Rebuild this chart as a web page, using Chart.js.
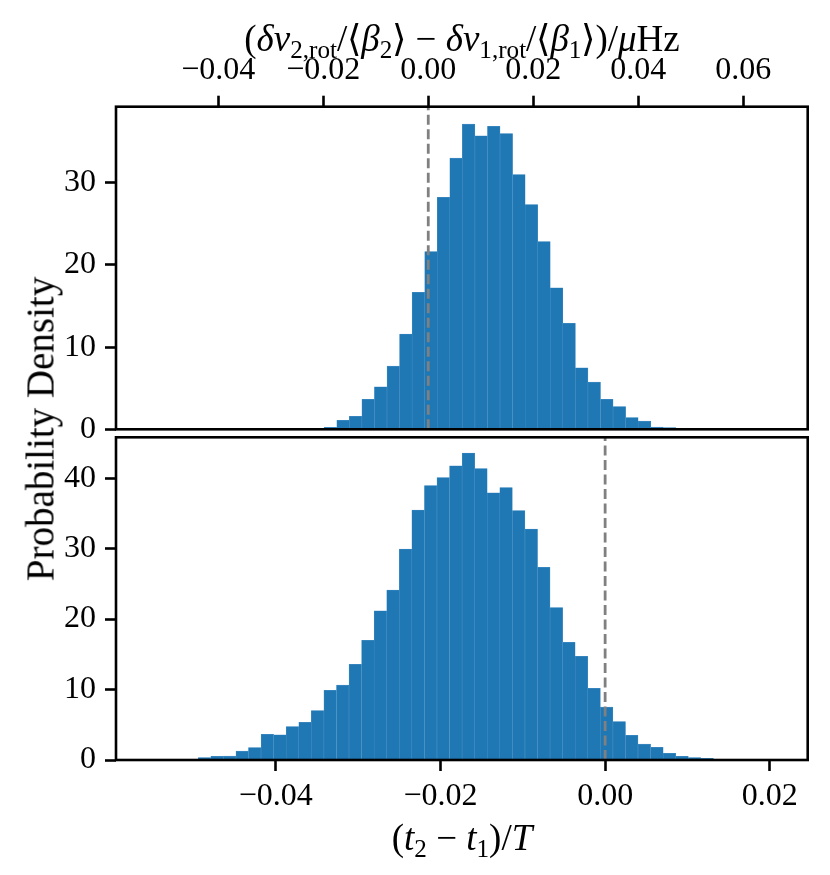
<!DOCTYPE html>
<html>
<head>
<meta charset="utf-8">
<title>Probability density of rotation offsets</title>
<script src="https://cdn.jsdelivr.net/npm/chart.js@4.4.0/dist/chart.umd.min.js"></script>
<style>
    html, body { margin: 0; padding: 0; background: #fff; }
    #wrap { position: relative; width: 830px; height: 875px; font-family: "Liberation Serif", serif; color: #000; overflow: hidden; }
    canvas { position: absolute; left: 0; }
    #top-chart { top: 0; }
    #bottom-chart { top: 420px; }
    .axis-title { position: absolute; white-space: nowrap; font-size: 37px; line-height: 1; }
    .axis-title sub { font-size: 68%; vertical-align: -0.3em; line-height: 0; }
    #title-top { left: 462px; top: 38px; transform: translate(-50%, -50%); }
    #title-bottom { left: 462px; top: 837px; transform: translate(-50%, -50%); }
    #title-y { left: 40px; top: 429px; transform: translate(-50%, -50%) rotate(-90deg); font-size: 39px; }
</style>
</head>
<body>
<div id="wrap">
    <canvas id="top-chart" width="830" height="470"></canvas>
    <canvas id="bottom-chart" width="830" height="455"></canvas>
    <div class="axis-title" id="title-top">(<i>δν</i><sub>2,rot</sub>/⟨<i>β</i><sub>2</sub>⟩ − <i>δν</i><sub>1,rot</sub>/⟨<i>β</i><sub>1</sub>⟩)/<i>μ</i>Hz</div>
    <div class="axis-title" id="title-bottom">(<i>t</i><sub>2</sub> − <i>t</i><sub>1</sub>)/<i>T</i></div>
    <div class="axis-title" id="title-y">Probability Density</div>
</div>
<script>
// Histogram data (bin centres and density)

const topBinCenters = [
    -0.02102, -0.01863, -0.01623, -0.01384, -0.01145, -0.00906, -0.00666, -0.00427,
    -0.00188, 0.00052, 0.00291, 0.00530, 0.00769, 0.01009, 0.01248, 0.01487,
    0.01727, 0.01966, 0.02205, 0.02445, 0.02684, 0.02923, 0.03162, 0.03402,
    0.03641, 0.03880, 0.04120, 0.04359, 0.04598
];
const topDensity = [
    0.08, 0.24, 1.09, 1.58, 3.65, 5.18, 7.70, 11.58,
    16.65, 21.63, 28.23, 33.01, 37.14, 35.72, 36.86, 35.97,
    30.98, 27.34, 22.84, 17.21, 12.88, 7.49, 5.75, 3.65,
    2.75, 1.42, 1.01, 0.28, 0.20
];

const bottomBinCenters = [
    -0.04865, -0.04712, -0.04560, -0.04407, -0.04255, -0.04102, -0.03949, -0.03797,
    -0.03644, -0.03492, -0.03339, -0.03186, -0.03034, -0.02881, -0.02729, -0.02576,
    -0.02423, -0.02271, -0.02118, -0.01966, -0.01813, -0.01660, -0.01508, -0.01355,
    -0.01203, -0.01050, -0.00897, -0.00745, -0.00592, -0.00440, -0.00287, -0.00134,
    0.00018, 0.00171, 0.00323, 0.00476, 0.00629, 0.00781, 0.00934, 0.01086, 0.01239
];
const bottomDensity = [
    0.33, 0.52, 0.57, 1.28, 1.75, 3.64, 3.59, 4.73,
    5.34, 7.00, 9.88, 10.64, 13.57, 16.97, 21.18, 24.11,
    29.93, 35.46, 38.96, 40.09, 41.75, 43.55, 41.37, 37.92,
    38.68, 35.41, 32.77, 27.33, 21.65, 16.69, 14.70, 10.17,
    7.52, 5.44, 3.50, 2.27, 1.80, 0.95, 0.52, 0.33, 0.24
];

// Axis ranges and tick values
const topXRange = [-0.0595, 0.0723];
const bottomXRange = [-0.0594, 0.0246];
const topXTicks = [-0.04, -0.02, 0.00, 0.02, 0.04, 0.06];
const bottomXTicks = [-0.04, -0.02, 0.00, 0.02];
const topYMax = 39.25;
const bottomYMax = 45.8;
const topYTicks = [0, 10, 20, 30];
const bottomYTicks = [0, 10, 20, 30, 40];

// Dashed reference line at zero
const refLineX = 0;

const barColor = '#1f77b4';
const tickFont = { family: 'Liberation Serif', size: 32 };

function formatTick(v) {
    return v.toFixed(2).replace('-', '\u2212');
}

// box around each panel, drawn over the bars like matplotlib spines
const framePlugin = {
    id: 'frame',
    afterDatasetsDraw(chart) {
        const ctx = chart.ctx;
        const a = chart.chartArea;
        ctx.save();
        ctx.strokeStyle = '#000';
        ctx.lineWidth = 2.6;
        ctx.strokeRect(a.left, a.top, a.right - a.left, a.bottom - a.top);
        ctx.restore();
    }
};

function makePanel(canvasId, cfg) {
    const ctx = document.getElementById(canvasId).getContext('2d');

    const bars = cfg.centers.map((c, i) => ({ x: c, y: cfg.density[i] }));

    return new Chart(ctx, {
        type: 'bar',
        data: {
            datasets: [
                {
                    type: 'line',
                    data: [{ x: refLineX, y: 0 }, { x: refLineX, y: cfg.yMax }],
                    borderColor: '#808080',
                    borderWidth: 2.8,
                    borderDash: [10, 4.5],
                    pointRadius: 0,
                    order: 0
                },
                {
                    type: 'bar',
                    data: bars,
                    backgroundColor: barColor,
                    borderColor: '#4d93c8',
                    borderWidth: 0.5,
                    barPercentage: 1,
                    categoryPercentage: 1,
                    order: 1
                }
            ]
        },
        options: {
            responsive: false,
            animation: false,
            events: [],
            layout: { padding: cfg.padding },
            plugins: {
                legend: { display: false },
                tooltip: { enabled: false }
            },
            scales: {
                x: {
                    type: 'linear',
                    position: cfg.xPosition,
                    offset: false,
                    min: cfg.xRange[0],
                    max: cfg.xRange[1],
                    afterBuildTicks: s => { s.ticks = cfg.xTicks.map(v => ({ value: v })); },
                    afterFit: s => {
                        s.height = cfg.xAxisHeight;
                        s.paddingLeft = 0;
                        s.paddingRight = 0;
                    },
                    grid: {
                        display: true,
                        offset: false,
                        drawOnChartArea: false,
                        drawTicks: true,
                        tickLength: 11,
                        tickWidth: 2.6,
                        tickColor: '#000'
                    },
                    border: { display: false },
                    ticks: {
                        font: tickFont,
                        color: '#000',
                        padding: 6,
                        maxRotation: 0,
                        autoSkip: false,
                        callback: v => formatTick(v)
                    }
                },
                y: {
                    type: 'linear',
                    position: 'left',
                    min: 0,
                    max: cfg.yMax,
                    afterBuildTicks: s => { s.ticks = cfg.yTicks.map(v => ({ value: v })); },
                    afterFit: s => {
                        s.width = 116;
                        s.paddingTop = 0;
                        s.paddingBottom = 0;
                    },
                    grid: {
                        display: true,
                        drawOnChartArea: false,
                        drawTicks: true,
                        tickLength: 11,
                        tickWidth: 2.6,
                        tickColor: '#000'
                    },
                    border: { display: false },
                    ticks: {
                        font: tickFont,
                        color: '#000',
                        padding: 9,
                        autoSkip: false,
                        callback: v => String(v)
                    }
                }
            }
        },
        plugins: [framePlugin]
    });
}

makePanel('top-chart', {
    centers: topBinCenters,
    density: topDensity,
    xRange: topXRange,
    xTicks: topXTicks,
    yMax: topYMax,
    yTicks: topYTicks,
    xPosition: 'top',
    xAxisHeight: 106.7,
    padding: { left: 0, right: 22.3, top: 0, bottom: 40.7 }
});

makePanel('bottom-chart', {
    centers: bottomBinCenters,
    density: bottomDensity,
    xRange: bottomXRange,
    xTicks: bottomXTicks,
    yMax: bottomYMax,
    yTicks: bottomYTicks,
    xPosition: 'bottom',
    xAxisHeight: 115,
    padding: { left: 0, right: 22.3, top: 17.3, bottom: 0 }
});
</script>
</body>
</html>
